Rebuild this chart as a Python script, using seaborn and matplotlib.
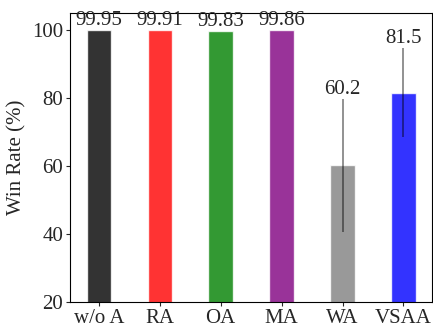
import numpy as np
import pandas as pd
import matplotlib
matplotlib.use("Agg")
import matplotlib.pyplot as plt
from matplotlib import font_manager
import seaborn as sns

methods = ["w/o A", "RA", "OA", "MA", "WA", "VSAA"]
win_rate = [99.95, 99.91, 99.83, 99.86, 60.2, 81.5]
win_err = [0.0, 0.0, 0.0, 0.0, 19.6, 13.1]
labels = ["99.95", "99.91", "99.83", "99.86", "60.2", "81.5"]
colors = ["black", "red", "green", "purple", "gray", "blue"]

sns.set_style("ticks")
names = sorted({f.name for f in font_manager.fontManager.ttflist})
serif = [n for n in ["Times New Roman", "Liberation Serif", "Nimbus Roman", "DejaVu Serif"] if n in names]
plt.rcParams["font.family"] = serif

df = pd.DataFrame({"method": methods, "rate": win_rate})

fig = plt.figure(figsize=(4.33, 3.23), dpi=100)
ax = fig.add_axes([0.162, 0.065, 0.836, 0.895])
sns.barplot(data=df, x="method", y="rate", hue="method", palette=colors,
            width=0.4, alpha=0.8, saturation=1, legend=False, ax=ax)

x = np.arange(len(methods))
for i in range(len(methods)):
    if win_err[i] > 0:
        ax.errorbar(x[i], win_rate[i], yerr=win_err[i], fmt="none",
                    ecolor="black", alpha=0.5, elinewidth=1.2, capsize=0)
    ax.text(x[i], win_rate[i] + win_err[i], labels[i], ha="center",
            va="bottom", fontsize=15)

ax.set_ylim(20, 105)
ax.set_yticks([20, 40, 60, 80, 100])
ax.set_xlabel("")
ax.set_ylabel("Win Rate (%)", fontsize=15)
ax.tick_params(labelsize=15, length=3, pad=2)
for s in ax.spines.values():
    s.set_visible(True)
    s.set_color("black")

fig.savefig("out.png", dpi=100)
print(serif)
